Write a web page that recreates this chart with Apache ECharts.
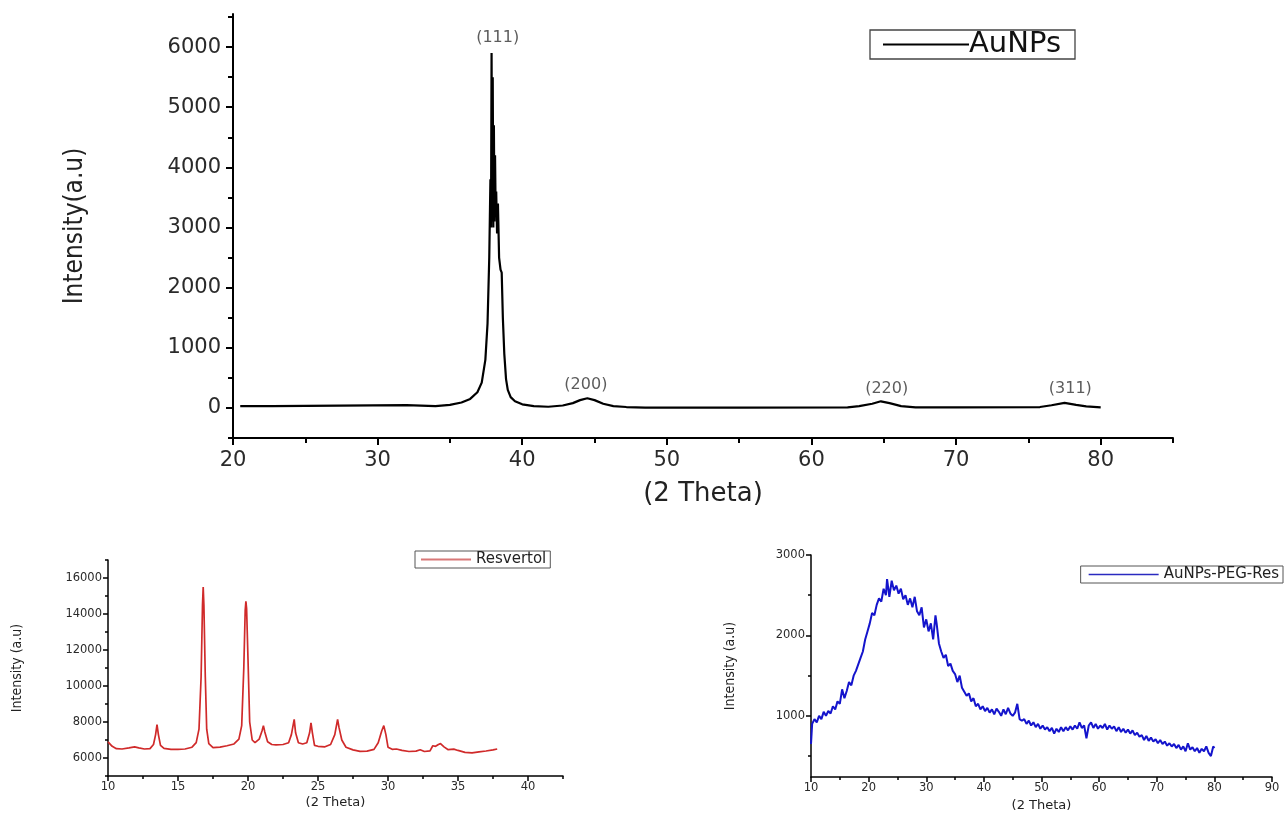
<!DOCTYPE html>
<html>
<head>
<meta charset="utf-8">
<script src="https://cdn.jsdelivr.net/npm/echarts@6/dist/echarts.min.js"></script>
<style>
html,body{margin:0;padding:0;background:#fff;}
#c{width:1284px;height:815px;}
</style>
</head>
<body>
<div id="c"></div>
<script>
// ---------- Top panel: AuNPs ----------
var auTheta = [20.5,22.7,22.8,32.0,32.1,34.0,35.0,35.8,36.4,36.9,37.2,37.45,37.6,37.72,37.8,37.84,37.88,37.92,37.96,38.0,38.04,38.08,38.12,38.16,38.2,38.26,38.32,38.4,38.5,38.58,38.66,38.76,38.88,39.0,39.2,39.5,40.0,40.8,41.8,42.8,43.5,44.0,44.5,45.0,45.6,46.3,47.2,48.5,55.0,62.5,63.3,64.2,64.8,65.4,66.2,67.2,70.0,75.8,76.6,77.5,78.3,79.0,80.0];
var auIntensity = [30,30,45,45,25,30,50,90,150,260,420,800,1400,2500,3800,3000,5900,3100,5500,3000,4700,3100,4200,3300,3600,2900,3400,2500,2300,2250,1500,900,480,300,180,110,60,30,20,40,80,130,160,130,70,30,15,5,5,10,30,70,110,80,30,10,10,15,45,85,50,25,10];
var auPeakLabels = ['(111)','(200)','(220)','(311)'];
var auPeakTheta = [38.3,44.4,65.2,77.9];
var auPeakLabelY = [6150,380,315,315];
var topXLabels = [20,30,40,50,60,70,80];
var topXMinor = [25,35,45,55,65,75,85];
var topYLabels = [0,1000,2000,3000,4000,5000,6000];
var topYMinor = [-500,500,1500,2500,3500,4500,5500,6500];

// ---------- Bottom-left: Resvertol ----------
var resTheta = [10.0,10.3,10.6,11.0,11.5,11.9,12.2,12.6,13.0,13.25,13.4,13.5,13.6,13.75,14.0,14.5,15.0,15.5,16.0,16.3,16.5,16.65,16.75,16.8,16.85,16.95,17.05,17.2,17.5,18.0,18.5,19.0,19.35,19.55,19.7,19.8,19.85,19.9,20.0,20.12,20.3,20.5,20.8,21.0,21.1,21.2,21.4,21.7,22.0,22.5,22.9,23.1,23.3,23.4,23.6,23.9,24.2,24.4,24.5,24.6,24.75,25.0,25.5,25.9,26.2,26.4,26.5,26.7,27.0,27.5,28.0,28.5,29.0,29.3,29.55,29.7,29.85,30.0,30.3,30.6,31.0,31.5,32.0,32.3,32.6,33.0,33.2,33.4,33.6,33.75,34.0,34.3,34.7,35.0,35.5,36.0,36.5,37.0,37.5,37.8];
var resIntensity = [6900,6650,6520,6500,6560,6620,6560,6500,6520,6750,7300,7850,7300,6700,6530,6480,6480,6500,6600,6850,7600,10500,14500,15500,14500,10500,7600,6800,6580,6600,6680,6780,7050,7800,11000,14200,14700,14300,11500,8000,7000,6850,7050,7500,7800,7450,6900,6750,6730,6750,6850,7300,8150,7400,6850,6780,6850,7400,7950,7400,6700,6650,6620,6750,7300,8150,7700,7000,6600,6450,6370,6380,6480,6850,7500,7800,7300,6600,6480,6500,6420,6360,6380,6460,6360,6400,6680,6650,6750,6800,6620,6460,6490,6420,6310,6280,6340,6390,6450,6500];
var blXLabels = [10,15,20,25,30,35,40];
var blXMinor = [12.5,17.5,22.5,27.5,32.5,37.5,42.5];
var blYLabels = [6000,8000,10000,12000,14000,16000];
var blYMinor = [5000,7000,9000,11000,13000,15000,17000];

// ---------- Bottom-right: AuNPs-PEG-Res ----------
var pegTheta = [10.0,10.2,10.6,11.0,11.4,11.8,12.2,12.6,13.0,13.4,13.8,14.2,14.6,15.0,15.4,15.8,16.2,16.6,17.0,17.4,17.8,18.2,18.6,19.0,19.4,19.8,20.2,20.6,21.0,21.4,21.8,22.2,22.6,23.0,23.2,23.6,24.0,24.4,24.8,25.2,25.6,26.0,26.4,26.8,27.2,27.6,28.0,28.4,28.8,29.2,29.6,30.0,30.4,30.8,31.2,31.6,31.8,32.2,32.6,33.0,33.4,33.8,34.2,34.6,35.0,35.4,35.8,36.2,36.6,37.0,37.4,37.8,38.2,38.6,39.0,39.4,39.8,40.2,40.6,41.0,41.4,41.8,42.2,42.6,43.0,43.4,43.8,44.2,44.6,45.0,45.4,45.8,46.2,46.6,47.0,47.4,47.8,48.2,48.6,49.0,49.4,49.8,50.2,50.6,51.0,51.4,51.8,52.2,52.6,53.0,53.4,53.8,54.2,54.6,55.0,55.4,55.8,56.2,56.6,57.0,57.4,57.8,58.2,58.6,59.0,59.4,59.8,60.2,60.6,61.0,61.4,61.8,62.2,62.6,63.0,63.4,63.8,64.2,64.6,65.0,65.4,65.8,66.2,66.6,67.0,67.4,67.8,68.2,68.6,69.0,69.4,69.8,70.2,70.6,71.0,71.4,71.8,72.2,72.6,73.0,73.4,73.8,74.2,74.6,75.0,75.4,75.8,76.2,76.6,77.0,77.4,77.8,78.2,78.6,79.0,79.4,79.8,80.0];
var pegIntensity = [650,900,960,920,1000,960,1050,1000,1060,1030,1120,1080,1180,1150,1330,1220,1310,1420,1380,1500,1560,1640,1720,1800,1950,2050,2150,2280,2250,2380,2460,2420,2580,2500,2700,2480,2680,2560,2620,2520,2580,2450,2500,2380,2460,2350,2480,2300,2250,2350,2100,2200,2050,2150,1950,2250,2150,1900,1800,1720,1760,1620,1650,1560,1520,1420,1500,1350,1300,1250,1280,1180,1220,1120,1150,1080,1120,1060,1100,1040,1080,1020,1090,1050,1000,1080,1020,1100,1030,1000,1040,1150,960,940,960,900,940,880,920,860,900,840,880,830,860,810,850,780,840,800,860,810,860,820,870,830,880,840,920,850,880,720,880,920,850,900,840,880,850,900,830,880,840,870,810,860,800,840,790,830,780,820,760,790,740,760,700,750,690,730,680,710,660,700,650,680,630,660,620,650,600,640,580,620,560,660,580,610,560,600,540,590,560,620,540,500,620,600];
var brXLabels = [10,20,30,40,50,60,70,80,90];
var brXMinor = [15,25,35,45,55,65,75,85];
var brYLabels = [1000,2000,3000];
var brYMinor = [500,1500,2500];

function zip(a,b){ var out=[]; for(var i=0;i<a.length;i++){ out.push([a[i],b[i]]); } return out; }

var FONT = 'DejaVu Sans';
var NARROW = '"Liberation Sans Narrow","DejaVu Sans Condensed","Arial Narrow",sans-serif';

function mainAxis(o){
  return {
    type:'value', gridIndex:o.grid, min:o.min, max:o.max, position:o.pos,
    axisLine:{show:true, onZero:false, lineStyle:{color:'#000', width:o.lw}},
    axisTick:{show:true, inside:false, customValues:o.labels, length:o.tl, lineStyle:{color:'#000', width:o.lw}},
    axisLabel:{show:true, customValues:o.labels, fontFamily:FONT, fontSize:o.fs, color:'#2a2a2a', margin:o.margin,
               formatter:function(v){ return String(v); }},
    splitLine:{show:false},
    name:o.name, nameLocation:'middle', nameGap:o.gap,
    nameTextStyle:{fontFamily:o.nameFont, fontSize:o.nfs, color:'#222'}
  };
}
function minorAxis(o){
  return {
    type:'value', gridIndex:o.grid, min:o.min, max:o.max, position:o.pos,
    axisLine:{show:false, onZero:false},
    axisTick:{show:true, inside:false, customValues:o.minor, length:o.tl, lineStyle:{color:'#000', width:o.lw}},
    axisLabel:{show:false},
    splitLine:{show:false}
  };
}

var chart = echarts.init(document.getElementById('c'), null, {renderer:'canvas'});

var option = {
  backgroundColor:'#ffffff',
  animation:false,
  grid:[
    {left:233, right:111, top:14, bottom:377},
    {left:108, right:721, top:560, bottom:39},
    {left:811, right:12, top:555, bottom:38}
  ],
  legend:[
    {data:['AuNPs'], left:870, top:30, icon:'rect', itemWidth:86, itemHeight:2, itemGap:0,
     borderColor:'#444', borderWidth:1.3, padding:[0,14,0,13],
     textStyle:{fontFamily:FONT, fontSize:29, color:'#111', padding:[0,0,0,-5]}},
    {data:['Resvertol'], left:415, top:551, icon:'rect', itemWidth:50, itemHeight:2,
     borderColor:'#555', borderWidth:1, padding:[1,4,1,6],
     textStyle:{fontFamily:FONT, fontSize:15, color:'#222'}},
    {data:['AuNPs-PEG-Res'], right:1, top:566, icon:'rect', itemWidth:70, itemHeight:1.5,
     borderColor:'#555', borderWidth:1, padding:[1,4,1,8],
     textStyle:{fontFamily:FONT, fontSize:15, color:'#222'}}
  ],
  xAxis:[
    mainAxis({grid:0,min:20,max:85,pos:'bottom',lw:2,tl:7,labels:topXLabels,fs:21,margin:12,name:'(2 Theta)',gap:43,nameFont:FONT,nfs:26}),
    minorAxis({grid:0,min:20,max:85,pos:'bottom',lw:2,tl:5,minor:topXMinor}),
    mainAxis({grid:1,min:10,max:42.5,pos:'bottom',lw:1.5,tl:5,labels:blXLabels,fs:11.5,margin:5,name:'(2 Theta)',gap:20,nameFont:FONT,nfs:13}),
    minorAxis({grid:1,min:10,max:42.5,pos:'bottom',lw:1.5,tl:3,minor:blXMinor}),
    mainAxis({grid:2,min:10,max:90,pos:'bottom',lw:1.5,tl:5,labels:brXLabels,fs:11.5,margin:5,name:'(2 Theta)',gap:22,nameFont:FONT,nfs:13}),
    minorAxis({grid:2,min:10,max:90,pos:'bottom',lw:1.5,tl:3,minor:brXMinor})
  ],
  yAxis:[
    mainAxis({grid:0,min:-500,max:6550,pos:'left',lw:2,tl:7,labels:topYLabels,fs:21,margin:12,name:'Intensity(a.u)',gap:145,nameFont:NARROW,nfs:26}),
    minorAxis({grid:0,min:-500,max:6550,pos:'left',lw:2,tl:5,minor:topYMinor}),
    mainAxis({grid:1,min:5000,max:17000,pos:'left',lw:1.5,tl:5,labels:blYLabels,fs:11.5,margin:6,name:'Intensity (a.u)',gap:84,nameFont:NARROW,nfs:14}),
    minorAxis({grid:1,min:5000,max:17000,pos:'left',lw:1.5,tl:3,minor:blYMinor}),
    mainAxis({grid:2,min:240,max:3000,pos:'left',lw:1.5,tl:5,labels:brYLabels,fs:11.5,margin:6,name:'Intensity (a.u)',gap:74,nameFont:NARROW,nfs:14}),
    minorAxis({grid:2,min:240,max:3000,pos:'left',lw:1.5,tl:3,minor:brYMinor})
  ],
  series:[
    {name:'AuNPs', type:'line', xAxisIndex:0, yAxisIndex:0, data:zip(auTheta,auIntensity),
     symbol:'none', lineStyle:{color:'#000', width:2.2}, itemStyle:{color:'#000'}, silent:true},
    {name:'peaks', type:'scatter', xAxisIndex:0, yAxisIndex:0, symbolSize:0, silent:true,
     data:auPeakLabels.map(function(l,i){ return {name:l, value:[auPeakTheta[i], auPeakLabelY[i]]}; }),
     label:{show:true, position:'inside', formatter:'{b}', fontFamily:FONT, fontSize:16, color:'#333'}},
    {name:'Resvertol', type:'line', xAxisIndex:2, yAxisIndex:2, data:zip(resTheta,resIntensity),
     symbol:'none', lineStyle:{color:'#d02a2a', width:1.7}, itemStyle:{color:'#d87878'}, silent:true},
    {name:'AuNPs-PEG-Res', type:'line', xAxisIndex:4, yAxisIndex:4, data:zip(pegTheta,pegIntensity),
     symbol:'none', lineStyle:{color:'#1414cc', width:2}, itemStyle:{color:'#2a2ac0'}, silent:true}
  ]
};
chart.setOption(option);
</script>
</body>
</html>
